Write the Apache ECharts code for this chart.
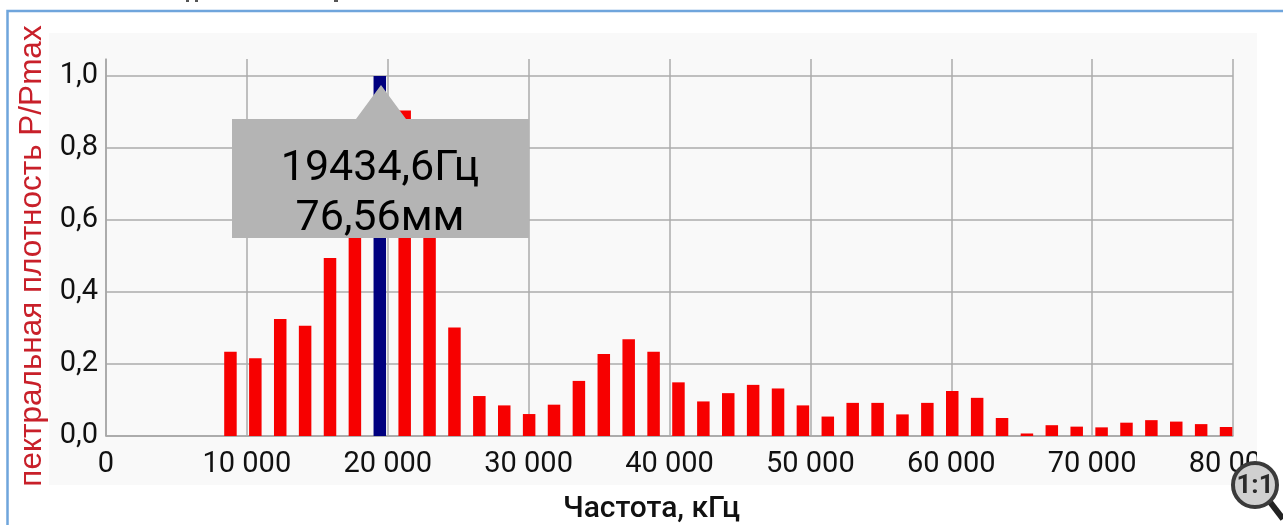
<!DOCTYPE html>
<html>
<head>
<meta charset="utf-8">
<style>html,body{margin:0;padding:0;background:#fff}#main{width:1283px;height:525px}</style>
<script src="https://cdn.jsdelivr.net/npm/echarts@6/dist/echarts.min.js"></script>
</head>
<body>
<div id="main"></div>
<script>
// частоты гармоник, Гц
var freqs = [8834, 10601, 12368, 14134, 15901, 17668, 19435, 21202, 22968, 24735, 26502, 28269, 30036, 31802,
    33569, 35336, 37103, 38870, 40636, 42403, 44170, 45937, 47704, 49470, 51237, 53004, 54771, 56538, 58304,
    60071, 61838, 63605, 65372, 67138, 68905, 70672, 72439, 74206, 75972, 77739, 79506];
// P/Pmax
var power = [0.234, 0.216, 0.325, 0.306, 0.494, 0.68, 1.0, 0.904, 0.6, 0.301, 0.111, 0.085, 0.061, 0.087,
    0.153, 0.228, 0.269, 0.234, 0.149, 0.096, 0.119, 0.142, 0.132, 0.085, 0.054, 0.092, 0.092, 0.060, 0.092,
    0.125, 0.106, 0.05, 0.007, 0.03, 0.026, 0.024, 0.037, 0.044, 0.04, 0.033, 0.025];
var selectedIndex = 6;
var tooltipLines = ['19434,6Гц', '76,56мм'];

var myChart = echarts.init(document.getElementById('main'));

var barData = freqs.map(function (f, i) {
    return {
        value: [f, power[i]],
        itemStyle: { color: i === selectedIndex ? '#00007f' : '#f70000' }
    };
});

var option = {
    animation: false,
    textStyle: { fontFamily: 'Roboto' },
    grid: { left: 106, right: 50, top: 59, bottom: 89, outerBoundsMode: 'none' },
    xAxis: {
        type: 'value',
        min: 0,
        max: 80000,
        interval: 10000,
        name: 'Частота, кГц',
        nameLocation: 'middle',
        nameGap: 58,
        nameTextStyle: { color: '#111', fontSize: 30, fontWeight: 500, fontFamily: 'Roboto', padding: [0, 36, 0, 0] },
        axisLine: { show: true, onZero: false, lineStyle: { color: '#a6a6a6', width: 1.5 } },
        axisTick: { show: false },
        splitLine: { show: true, lineStyle: { color: '#ababab', width: 1.5 } },
        axisLabel: {
            color: '#111',
            fontSize: 29,
            margin: 14,
            formatter: function (v) {
                return String(v).replace(/(\d)(?=(\d{3})$)/, '$1 ');
            }
        }
    },
    yAxis: {
        type: 'value',
        min: 0,
        max: 1.047,
        interval: 0.2,
        name: 'пектральная плотность P/Pmax',
        nameLocation: 'middle',
        nameGap: 58,
        nameTextStyle: { color: '#c8202a', fontSize: 31.5, fontFamily: 'Liberation Sans', padding: [0, 17, 0, 0] },
        axisLine: { show: true, lineStyle: { color: '#a6a6a6', width: 1.5 } },
        axisTick: { show: false },
        splitLine: { show: true, showMaxLine: false, lineStyle: { color: '#ababab', width: 1.5 } },
        axisLabel: {
            color: '#111',
            fontSize: 29,
            margin: 8,
            showMaxLabel: false,
            formatter: function (v) {
                return v.toFixed(1).replace('.', ',');
            }
        }
    },
    series: [{
        type: 'bar',
        barWidth: 12.5,
        data: barData,
        z: 3
    }],
    graphic: [
        // светлый фон области графика
        { type: 'rect', z: -10, silent: true, shape: { x: 49, y: 33, width: 1208, height: 452 }, style: { fill: '#f9f9f9' } },
        // рамка скриншота
        { type: 'polyline', z: 50, silent: true, shape: { points: [[7.5, 525], [7.5, 11], [1283, 11]] },
            style: { stroke: '#6fa5dc', lineWidth: 2.5, fill: null } },
        // низ обрезанного заголовка над рамкой
        { type: 'rect', z: 50, silent: true, shape: { x: 186, y: 0, width: 3, height: 2 }, style: { fill: '#555' } },
        { type: 'rect', z: 50, silent: true, shape: { x: 195, y: 0, width: 3, height: 2 }, style: { fill: '#555' } },
        { type: 'rect', z: 50, silent: true, shape: { x: 334, y: 0, width: 4, height: 2 }, style: { fill: '#555' } },
        // подпись 80 000 обрезана справа
        { type: 'rect', z: 40, silent: true, shape: { x: 1257, y: 445, width: 26, height: 40 }, style: { fill: '#fff' } },
        // всплывающая подсказка
        { type: 'polygon', z: 20, silent: true, shape: { points: [[381, 85], [406, 119], [529, 119], [529, 238], [232, 238], [232, 119], [356, 119]] },
            style: { fill: '#b4b4b4' } },
        { type: 'text', z: 21, silent: true, style: { x: 380, y: 169, text: tooltipLines[0], fill: '#000', font: '43px Roboto', align: 'center', verticalAlign: 'middle' } },
        { type: 'text', z: 21, silent: true, style: { x: 380, y: 219, text: tooltipLines[1], fill: '#000', font: '43px Roboto', align: 'center', verticalAlign: 'middle' } },
        // значок 1:1
        { type: 'line', z: 45, silent: true, shape: { x1: 1270, y1: 502, x2: 1283, y2: 519 }, style: { stroke: '#222', lineWidth: 6 } },
        { type: 'circle', z: 46, silent: true, shape: { cx: 1255, cy: 485, r: 22 }, style: { fill: '#d0d0d0', stroke: '#3a3a3a', lineWidth: 4 } },
        { type: 'text', z: 47, silent: true, style: { x: 1255, y: 486, text: '1:1', fill: '#2a2a2a', font: 'bold 26px Roboto', align: 'center', verticalAlign: 'middle' } }
    ]
};

myChart.setOption(option);
</script>
</body>
</html>
